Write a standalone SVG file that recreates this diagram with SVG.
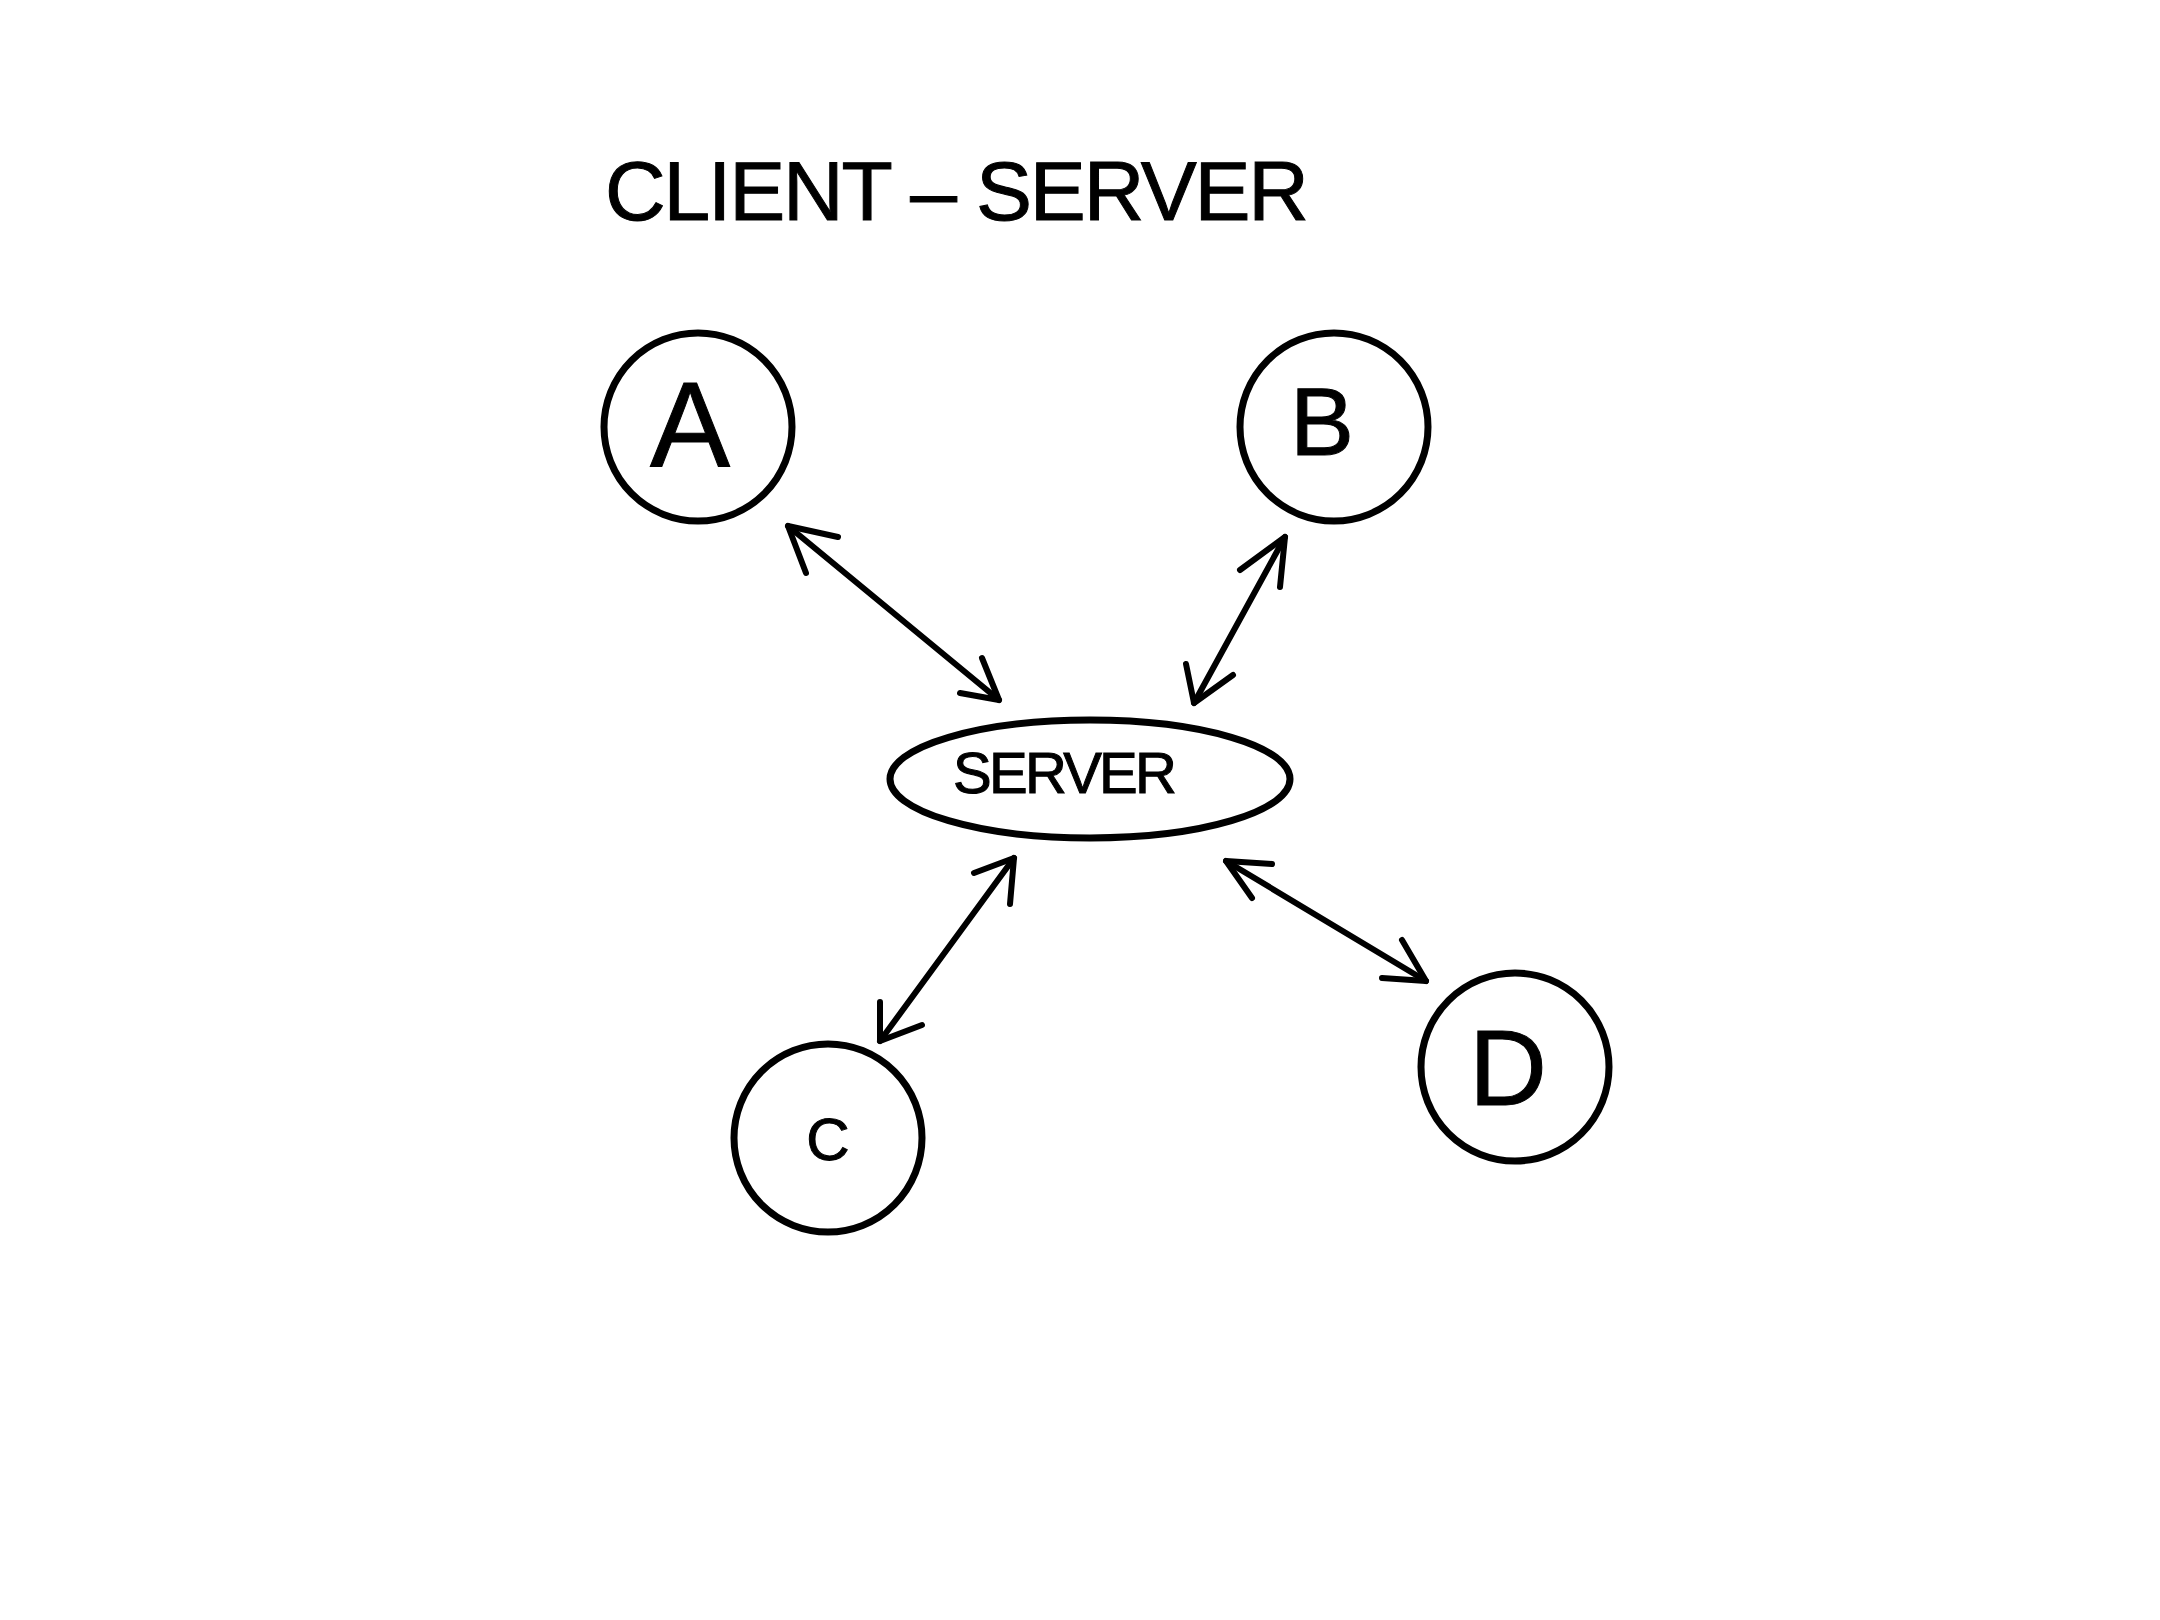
<svg xmlns="http://www.w3.org/2000/svg" width="2160" height="1620" viewBox="0 0 2160 1620">
<style>
.shape{fill:none;stroke:#000;stroke-width:7}
.conn{fill:none;stroke:#000;stroke-width:6;stroke-linecap:round;stroke-linejoin:round}
.lbl{font-family:"Liberation Sans","DejaVu Sans",sans-serif;fill:#000;stroke:#000;stroke-width:1;text-anchor:middle}
</style>
<rect width="2160" height="1620" fill="#fff"/>
<g id="title">
<text class="lbl" x="957" y="220" font-size="84" textLength="704" lengthAdjust="spacing">CLIENT – SERVER</text>
</g>
<g id="node-a">
<circle class="shape" cx="698" cy="427" r="94"/>
<text class="lbl" x="690" y="466" font-size="120">A</text>
</g>
<g id="node-b">
<circle class="shape" cx="1334" cy="427" r="94"/>
<text class="lbl" x="1322" y="455" font-size="96">B</text>
</g>
<g id="node-server">
<ellipse class="shape" cx="1090" cy="779" rx="200" ry="59"/>
<text class="lbl" x="1065" y="793" font-size="58" textLength="224" lengthAdjust="spacing">SERVER</text>
</g>
<g id="node-c">
<circle class="shape" cx="828" cy="1138" r="94"/>
<text class="lbl" x="828" y="1160" font-size="60">C</text>
</g>
<g id="node-d">
<circle class="shape" cx="1515" cy="1067" r="94"/>
<text class="lbl" x="1508" y="1105" font-size="108">D</text>
</g>
<g id="connectors">
<path class="conn" d="M788 526 L999 700"/>
<path class="conn" d="M838 537 L788 526 L806 573"/>
<path class="conn" d="M960 693 L999 700 L982 658"/>
<path class="conn" d="M1285 537 L1194 703"/>
<path class="conn" d="M1240 570 L1285 537 L1280 587"/>
<path class="conn" d="M1186 664 L1194 703 L1233 675"/>
<path class="conn" d="M1014 858 L880 1041"/>
<path class="conn" d="M974 873 L1014 858 L1010 904"/>
<path class="conn" d="M880 1002 L880 1041 L922 1025"/>
<path class="conn" d="M1226 861 L1426 981"/>
<path class="conn" d="M1272 864 L1226 861 L1252 898"/>
<path class="conn" d="M1382 978 L1426 981 L1402 940"/>
</g>
</svg>
